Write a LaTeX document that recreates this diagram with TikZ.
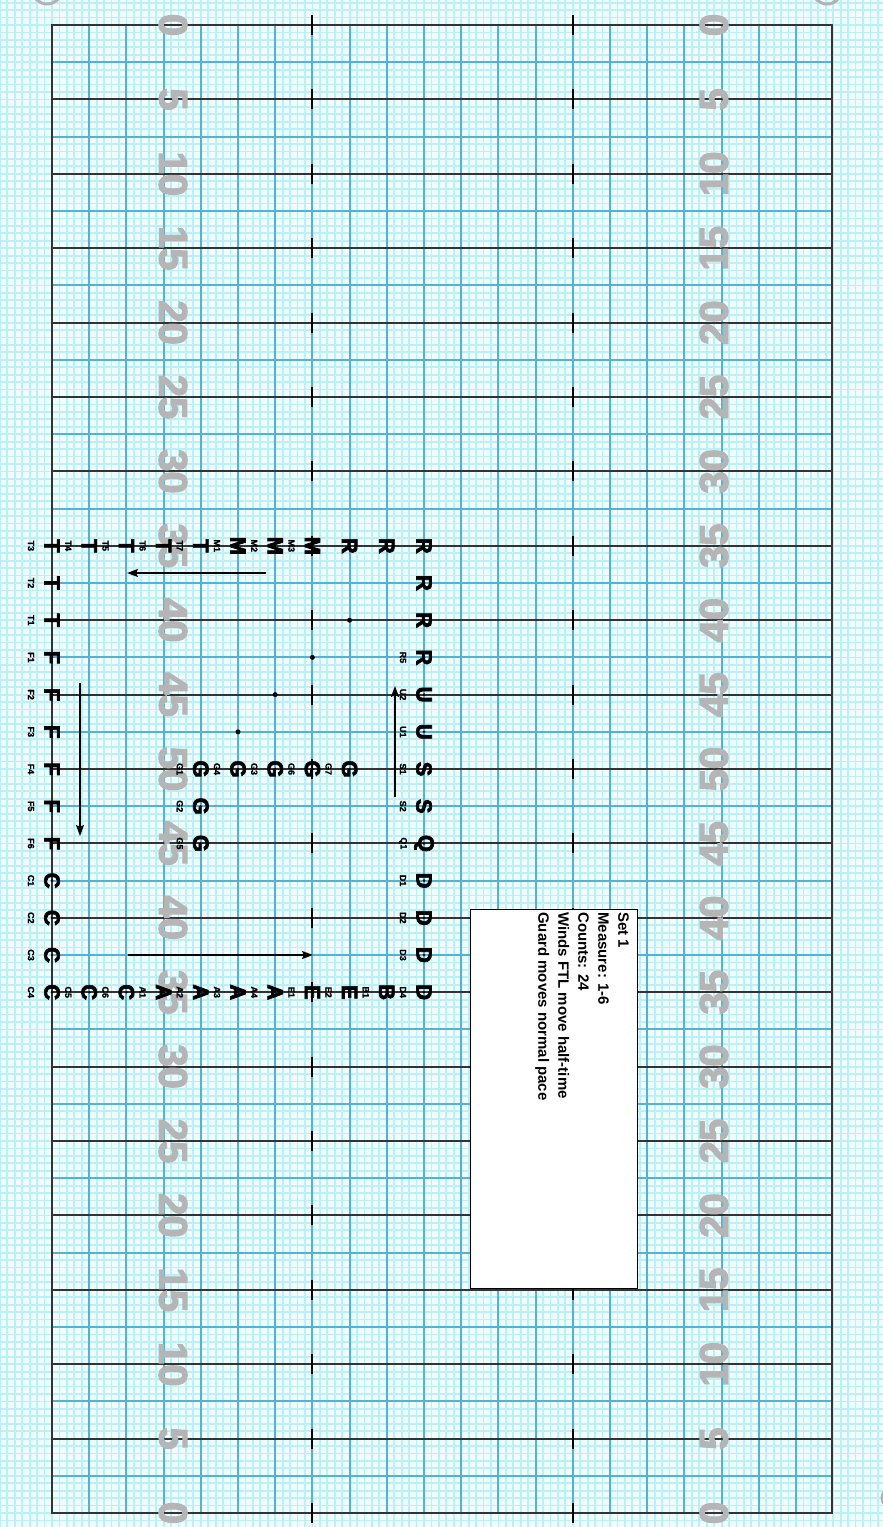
\documentclass[tikz,border=0pt]{standalone}
\usepackage{fontspec}
\setmainfont{Liberation Sans}
\newfontfamily\heavyfont[FakeBold=3]{Liberation Sans Bold}
\newfontfamily\semiheavyfont[FakeBold=1.2]{Liberation Sans Bold}
\usetikzlibrary{arrows.meta}
\definecolor{bgcell}{HTML}{EEFDFE}
\definecolor{minorc}{HTML}{BCEFF6}
\definecolor{bluel}{HTML}{52B3D9}
\definecolor{darkl}{HTML}{333333}
\definecolor{numgray}{HTML}{B5B5B5}
\tikzset{
  minorline/.style={draw=minorc, line width=1.8pt},
  blueline/.style={draw=bluel, line width=2pt},
  yardline/.style={draw=darkl, line width=2pt},
  hashmark/.style={draw=black, line width=2pt},
  ynum/.style={inner sep=0, text=numgray, font=\fontsize{40}{40}\heavyfont},
  glyph/.style={rotate=-90, inner sep=0, font=\fontsize{22}{22}\heavyfont},
  plab/.style={rotate=-90, inner sep=0, font=\fontsize{9}{9}\semiheavyfont},
  movearrow/.style={draw=black, line width=1.5pt, -{Stealth[length=11pt,width=8pt,inset=2pt]}},
  boxtext/.style={rotate=-90, align=left, inner sep=0, font=\fontsize{15}{20}\selectfont\bfseries},
  cornerarc/.style={draw=gray!60, line width=3pt}
}
\newcommand{\drillpf}[5]{%
  \node[glyph] (#1) at ({52+37.2*#2},{25+37.2*#3}) {#4};
  \node[plab] (#1-l) at ({52+37.2*#2-21},{25+37.2*#3}) {#5};
  \fill (#1.center) circle (1.4);
}
\newcommand{\drillpg}[4]{%
  \node[glyph] (#1) at ({52+37.2*#2},{25+37.2*#3}) {#4};
  \fill (#1.center) circle (1.4);
}
\begin{document}
\begin{tikzpicture}[x=1pt,y=-1pt]
\useasboundingbox (0,0) rectangle (883,1527);
% background and minor grid
\fill[bgcell] (0,0) rectangle (883,1527);
\foreach \n in {-7,...,111} \draw[minorline] ({52+7.44*\n},0) -- ({52+7.44*\n},1527);
\foreach \n in {-3,...,202} \draw[minorline] (0,{25+7.44*\n}) -- (883,{25+7.44*\n});
% corner artefacts (page corner rounding)
\begin{scope}
  \clip (0,0) rectangle (883,1527);
  \draw[cornerarc] (47,-9) ellipse (14 and 13);
  \draw[cornerarc] (827,-9) ellipse (14 and 13);
  \draw[cornerarc] (895,1498) ellipse (13 and 11);
\end{scope}
% blue grid lines
\foreach \i in {1,...,20} \draw[blueline] ({52+37.2*\i},25) -- ({52+37.2*\i},1513);
\foreach \k in {0,...,19} \draw[blueline] (52,{25+37.2*(2*\k+1)}) -- (832,{25+37.2*(2*\k+1)});
% yard lines
\foreach \k in {1,...,19} \draw[yardline] (52,{25+74.4*\k}) -- (832,{25+74.4*\k});
\draw[draw=darkl, line width=2.5pt] (52,25) rectangle (832,1513);
% hash marks
\foreach \k in {0,...,20} {
  \draw[hashmark] (312.4,{25+74.4*\k-10}) -- (312.4,{25+74.4*\k+10});
  \draw[hashmark] (572.8,{25+74.4*\k-10}) -- (572.8,{25+74.4*\k+10});
}
% yard numbers
\foreach \k/\t in {0/0,1/5,2/10,3/15,4/20,5/25,6/30,7/35,8/40,9/45,10/50,11/45,12/40,13/35,14/30,15/25,16/20,17/15,18/10,19/5,20/0} {
  \node[ynum, rotate=-90] (nl\k) at (173,{25+74.4*\k}) {\t};
  \node[ynum, rotate=90] (nr\k) at (714,{25+74.4*\k}) {\t};
}
% path dots
\fill (349.6,620.2) circle (2.5);
\fill (312.4,657.4) circle (2.5);
\fill (275.2,694.6) circle (2.5);
\fill (238,731.8) circle (2.5);
% performers
\drillpf{T3}{0}{14}{T}{T3}
\drillpf{T4}{1}{14}{T}{T4}
\drillpf{T5}{2}{14}{T}{T5}
\drillpf{T6}{3}{14}{T}{T6}
\drillpf{T7}{4}{14}{T}{T7}
\drillpf{M1}{5}{14}{M}{M1}
\drillpf{M2}{6}{14}{M}{M2}
\drillpf{M3}{7}{14}{M}{M3}
\drillpg{Ra}{8}{14}{R}
\drillpg{Rb}{9}{14}{R}
\drillpg{Rc}{10}{14}{R}
\drillpf{T2}{0}{15}{T}{T2}
\drillpg{Rd}{10}{15}{R}
\drillpf{T1}{0}{16}{T}{T1}
\drillpg{Re}{10}{16}{R}
\drillpf{F1}{0}{17}{F}{F1}
\drillpf{R5}{10}{17}{R}{R5}
\drillpf{F2}{0}{18}{F}{F2}
\drillpf{U2}{10}{18}{U}{U2}
\drillpf{F3}{0}{19}{F}{F3}
\drillpf{U1}{10}{19}{U}{U1}
\drillpf{F4}{0}{20}{F}{F4}
\drillpf{G1}{4}{20}{G}{G1}
\drillpf{G4}{5}{20}{G}{G4}
\drillpf{G3}{6}{20}{G}{G3}
\drillpf{G6}{7}{20}{G}{G6}
\drillpf{G7}{8}{20}{G}{G7}
\drillpf{S1}{10}{20}{S}{S1}
\drillpf{F5}{0}{21}{F}{F5}
\drillpf{G2}{4}{21}{G}{G2}
\drillpf{S2}{10}{21}{S}{S2}
\drillpf{F6}{0}{22}{F}{F6}
\drillpf{G5}{4}{22}{G}{G5}
\drillpf{Q1}{10}{22}{Q}{Q1}
\drillpf{C1}{0}{23}{C}{C1}
\drillpf{D1}{10}{23}{D}{D1}
\drillpf{C2}{0}{24}{C}{C2}
\drillpf{D2}{10}{24}{D}{D2}
\drillpf{C3}{0}{25}{C}{C3}
\drillpf{D3}{10}{25}{D}{D3}
\drillpf{C4}{0}{26}{C}{C4}
\drillpf{C5}{1}{26}{C}{C5}
\drillpf{C6}{2}{26}{C}{C6}
\drillpf{A1}{3}{26}{A}{A1}
\drillpf{A2}{4}{26}{A}{A2}
\drillpf{A3}{5}{26}{A}{A3}
\drillpf{A4}{6}{26}{A}{A4}
\drillpf{E1}{7}{26}{E}{E1}
\drillpf{E2}{8}{26}{E}{E2}
\drillpf{B1}{9}{26}{B}{B1}
\drillpf{D4}{10}{26}{D}{D4}
% movement arrows
\coordinate (a1s) at (266,573);
\coordinate (a1e) at (127,573);
\coordinate (a2s) at (80,683);
\coordinate (a2e) at (80,836);
\coordinate (a3s) at (395,797);
\coordinate (a3e) at (395,686);
\coordinate (a4s) at (128,955);
\coordinate (a4e) at (313,955);
\draw[movearrow] (a1s) -- (a1e);
\draw[movearrow] (a2s) -- (a2e);
\draw[movearrow] (a3s) -- (a3e);
\draw[movearrow] (a4s) -- (a4e);
% info box
\node[draw=black, line width=1.2pt, fill=white, minimum width=167pt, minimum height=379pt, inner sep=0, anchor=north west] (box) at (470,909) {};
\node[boxtext, anchor=north west] (info) at (629,912) {Set 1\\Measure: 1-6\\Counts: 24\\Winds FTL move half-time\\Guard moves normal pace};
\end{tikzpicture}
\end{document}
